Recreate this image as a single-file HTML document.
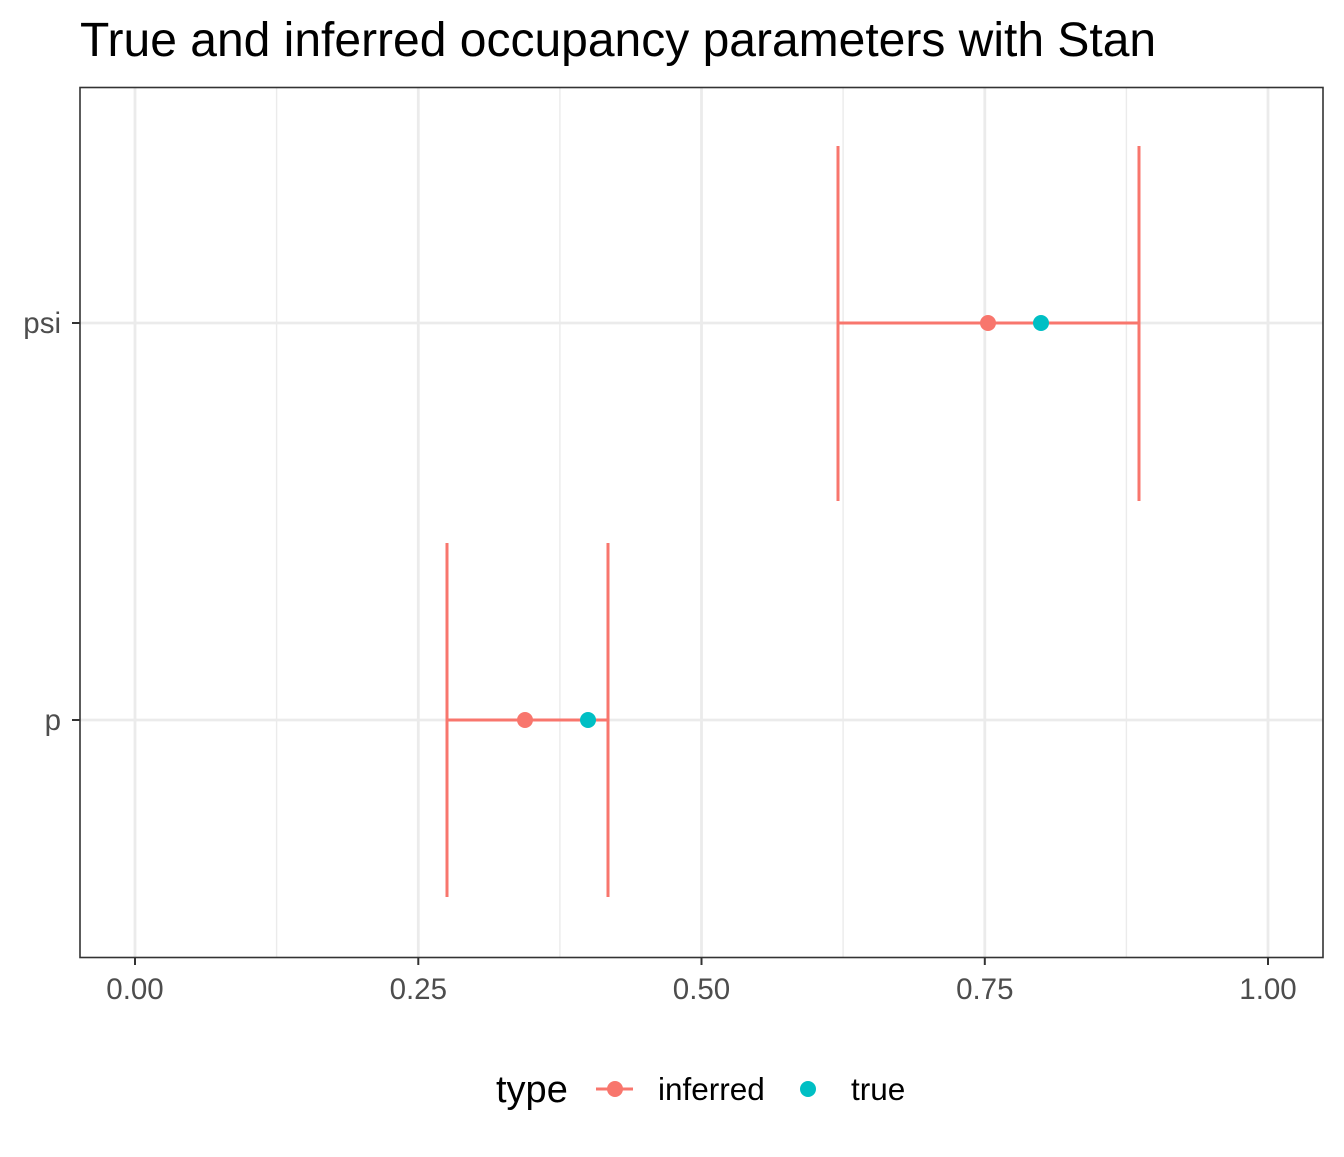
<!DOCTYPE html>
<html><head><style>body{margin:0;background:#fff}</style></head><body>
<svg width="1344" height="1152" xmlns="http://www.w3.org/2000/svg" font-family="Liberation Sans, sans-serif">
<text x="80" y="56" font-size="48" fill="#000">True and inferred occupancy parameters with Stan</text>
<g stroke="#ebebeb" stroke-width="1.4">
<line x1="276.6" y1="88" x2="276.6" y2="957"/><line x1="559.9" y1="88" x2="559.9" y2="957"/><line x1="843.1" y1="88" x2="843.1" y2="957"/><line x1="1126.4" y1="88" x2="1126.4" y2="957"/>
</g>
<g stroke="#ebebeb" stroke-width="2.8">
<line x1="135" y1="88" x2="135" y2="957"/><line x1="418.3" y1="88" x2="418.3" y2="957"/><line x1="701.5" y1="88" x2="701.5" y2="957"/><line x1="984.8" y1="88" x2="984.8" y2="957"/><line x1="1268" y1="88" x2="1268" y2="957"/>
<line x1="80" y1="323" x2="1323" y2="323"/><line x1="80" y1="720" x2="1323" y2="720"/>
</g>
<g stroke="#f8766d" stroke-width="3" fill="none">
<line x1="838" y1="146" x2="838" y2="501"/><line x1="1139" y1="146" x2="1139" y2="501"/><line x1="838" y1="323" x2="1139" y2="323"/>
<line x1="447" y1="543" x2="447" y2="897"/><line x1="608" y1="543" x2="608" y2="897"/><line x1="447" y1="720" x2="608" y2="720"/>
</g>
<circle cx="988" cy="323" r="8" fill="#f8766d"/><circle cx="1041" cy="323" r="8" fill="#00bfc4"/>
<circle cx="525" cy="720" r="8" fill="#f8766d"/><circle cx="588" cy="720" r="8" fill="#00bfc4"/>
<rect x="80" y="87.5" width="1243" height="870" fill="none" stroke="#333" stroke-width="1.6"/>
<g stroke="#333" stroke-width="2">
<line x1="135" y1="958" x2="135" y2="965"/><line x1="418.3" y1="958" x2="418.3" y2="965"/><line x1="701.5" y1="958" x2="701.5" y2="965"/><line x1="984.8" y1="958" x2="984.8" y2="965"/><line x1="1268" y1="958" x2="1268" y2="965"/>
<line x1="72" y1="323" x2="80" y2="323"/><line x1="72" y1="720" x2="80" y2="720"/>
</g>
<g font-size="29.5" fill="#4d4d4d" text-anchor="middle">
<text x="135" y="999">0.00</text><text x="418.3" y="999">0.25</text><text x="701.5" y="999">0.50</text><text x="984.8" y="999">0.75</text><text x="1268" y="999">1.00</text>
</g>
<g font-size="29.5" fill="#4d4d4d" text-anchor="end">
<text x="61" y="333">psi</text><text x="61" y="730">p</text>
</g>
<text x="496" y="1102" font-size="38" fill="#000">type</text>
<line x1="596" y1="1089" x2="633" y2="1089" stroke="#f8766d" stroke-width="3"/>
<circle cx="615" cy="1089" r="8" fill="#f8766d"/>
<text x="658" y="1100" font-size="31.5" fill="#000">inferred</text>
<circle cx="808" cy="1089" r="8" fill="#00bfc4"/>
<text x="851" y="1100" font-size="31.5" fill="#000">true</text>
</svg>
</body></html>
